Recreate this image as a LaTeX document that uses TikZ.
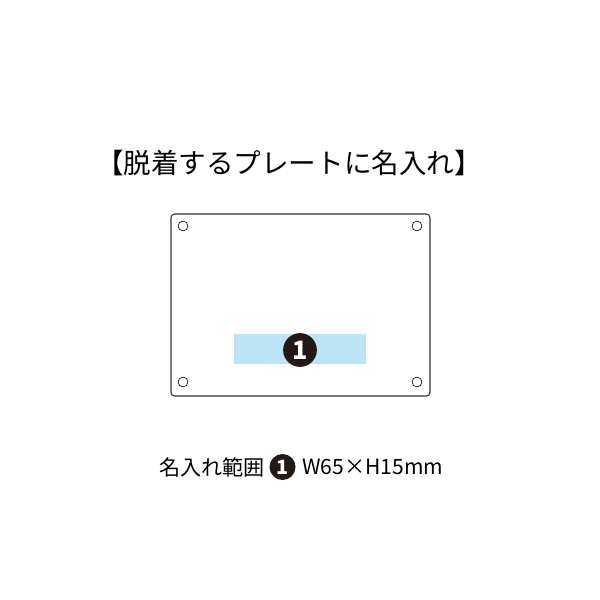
\documentclass[tikz,border=0pt]{standalone}
\usepackage{fontspec}
\setmainfont{Noto Sans CJK JP}
\usetikzlibrary{positioning}
\definecolor{areablue}{HTML}{BDE3F7}
\definecolor{inkblack}{HTML}{231815}

\begin{document}
\begin{tikzpicture}[x=0.025cm, y=-0.025cm, every node/.style={inner sep=0pt},
    hole/.style={circle, draw=inkblack, line width=0.5pt, minimum size=7pt},
    badge/.style={circle, fill=inkblack, text=white, font=\bfseries}]
    % page
    \useasboundingbox (0,0) rectangle (600,600);
    % title
    \node (title) at (289,163) {\fontsize{19.6pt}{22pt}\selectfont 【脱着するプレートに名入れ】};
    % plate and holes
    \draw[inkblack!90, line width=0.75pt, rounded corners=2.5pt] (171,214) rectangle (430,396);
    \node (hole1) [hole] at (183,226) {};
    \node (hole2) [hole] at (417,226) {};
    \node (hole3) [hole] at (183,382) {};
    \node (hole4) [hole] at (417,382) {};
    % name area
    \fill[areablue] (234,334) rectangle (366,364);
    \node (num) [badge, minimum size=24pt, font=\fontsize{18pt}{19pt}\selectfont\bfseries] at (300,350) {1};
    % caption
    \node (cap) at (212,467) {\fontsize{15pt}{17pt}\selectfont 名入れ範囲};
    \node (capnum) [badge, minimum size=18.5pt, font=\fontsize{14pt}{15pt}\selectfont\bfseries, right=3pt of cap] {1};
    \node (size) [right=4.5pt of capnum] {\fontsize{15pt}{17pt}\selectfont W65×H15mm};
\end{tikzpicture}
\end{document}
